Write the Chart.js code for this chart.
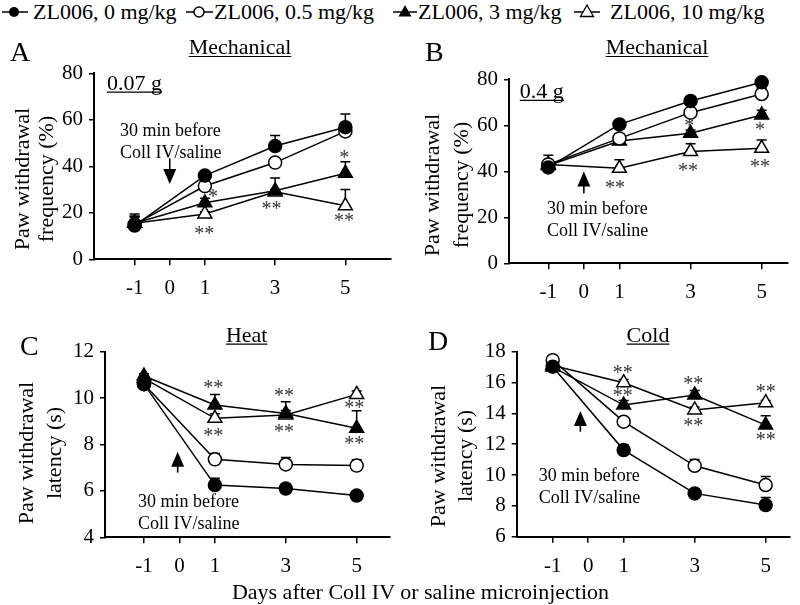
<!DOCTYPE html>
<html>
<head>
<meta charset="utf-8">
<script src="https://cdn.jsdelivr.net/npm/chart.js@4.4.1/dist/chart.umd.min.js"></script>
<style>
  body { margin: 0; background: #fff; width: 800px; height: 605px; position: relative; overflow: hidden; font-family: 'Liberation Serif', 'Times New Roman', serif; }
  canvas { position: absolute; }
  .leg { position: absolute; top: 1px; font-family: 'Liberation Serif', 'Times New Roman', serif; font-size: 22px; line-height: 22px; white-space: nowrap; color: #000; }
  .legsym { position: absolute; top: 0; }
  #xtitle { position: absolute; left: 0; width: 841px; top: 581px; text-align: center; font-family: 'Liberation Serif', 'Times New Roman', serif; font-size: 22px; line-height: 22px; }
</style>
</head>
<body>
<svg class="legsym" style="left:0" width="32" height="24"><line x1="2" y1="12" x2="28" y2="12" stroke="#000" stroke-width="1.5"/><circle cx="14" cy="12" r="5" fill="#000"/></svg>
<div class="leg" style="left:33px">ZL006, 0 mg/kg</div>
<svg class="legsym" style="left:185px" width="32" height="24"><line x1="1" y1="12" x2="28" y2="12" stroke="#000" stroke-width="1.5"/><circle cx="14" cy="12" r="5" fill="#fff" stroke="#000" stroke-width="1.5"/></svg>
<div class="leg" style="left:214px">ZL006, 0.5 mg/kg</div>
<svg class="legsym" style="left:392px" width="32" height="24"><line x1="1" y1="12" x2="25" y2="12" stroke="#000" stroke-width="1.5"/><polygon points="13,5 19.5,16.5 6.5,16.5" fill="#000"/></svg>
<div class="leg" style="left:418px">ZL006, 3 mg/kg</div>
<svg class="legsym" style="left:573px" width="32" height="24"><line x1="1" y1="12" x2="27" y2="12" stroke="#000" stroke-width="1.5"/><polygon points="14,5 20.5,16.5 7.5,16.5" fill="#fff" stroke="#000" stroke-width="1.3"/></svg>
<div class="leg" style="left:610px">ZL006, 10 mg/kg</div>

<canvas id="panelA" width="400" height="300" style="left:0;top:0"></canvas>
<canvas id="panelB" width="400" height="300" style="left:400px;top:0"></canvas>
<canvas id="panelC" width="400" height="290" style="left:0;top:300px"></canvas>
<canvas id="panelD" width="400" height="290" style="left:400px;top:300px"></canvas>
<div id="xtitle">Days after Coll IV or saline microinjection</div>

<script>
const FONT = "'Liberation Serif', 'Times New Roman', serif";

// data
const days = [-1, 1, 3, 5];
const xTicks = [-1, 0, 1, 3, 5];
const seriesNames = ['ZL006, 0 mg/kg', 'ZL006, 0.5 mg/kg', 'ZL006, 3 mg/kg', 'ZL006, 10 mg/kg'];

// A: mechanical 0.07 g (%)
const mechA_0 = [14.5, 36, 48.7, 56.8];
const mechA_05 = [15, 31.5, 41.6, 55];
const mechA_3 = [15.5, 24.3, 29.5, 37];
const mechA_10 = [15.5, 19.5, 29, 23];
const mechA_0_err = [5, 1.5, 4.5, 5.7];
const mechA_05_err = [3, 1, 1.5, 1.5];
const mechA_3_err = [3, 2, 5.5, 5];
const mechA_10_err = [3, 1, 1, 7];

// B: mechanical 0.4 g (%)
const mechB_0 = [41.7, 60.4, 70.6, 78.7];
const mechB_05 = [43, 54.3, 65.5, 73.6];
const mechB_3 = [42.5, 53.2, 56.5, 64.5];
const mechB_10 = [43, 41.3, 48.6, 50];
const mechB_0_err = [5.3, 1.5, 1, 1.5];
const mechB_05_err = [1, 2, 1, 2.5];
const mechB_3_err = [1, 1, 1.5, 2];
const mechB_10_err = [1, 3.7, 3.4, 3.6];

// C: heat latency (s)
const heat_0 = [10.6, 6.25, 6.1, 5.8];
const heat_05 = [10.6, 7.36, 7.14, 7.09];
const heat_3 = [10.95, 9.7, 9.34, 8.7];
const heat_10 = [10.85, 9.13, 9.27, 10.16];
const heat_0_err = [0.1, 0.3, 0.2, 0.1];
const heat_05_err = [0.1, 0.25, 0.3, 0.25];
const heat_3_err = [0.1, 0.45, 0.5, 0.75];
const heat_10_err = [0.1, 0.2, 0.2, 0.15];

// D: cold latency (s)
const cold_0 = [17.03, 11.62, 8.81, 8.05];
const cold_05 = [17.45, 13.46, 10.6, 9.35];
const cold_3 = [17.0, 14.54, 15.19, 13.24];
const cold_10 = [17.1, 15.99, 14.22, 14.69];
const cold_0_err = [0.1, 0.33, 0.15, 0.5];
const cold_05_err = [0.1, 0.2, 0.4, 0.55];
const cold_3_err = [0.1, 0.3, 0.3, 0.6];
const cold_10_err = [0.1, 0.2, 0.2, 0.15];

// significance marks: [day, value, text]
const starsA = [[1.23, 28.2, '*'], [0.98, 12.2, '**'], [2.9, 23.1, '**'], [4.97, 44.9, '*'], [4.96, 17.6, '**']];
const starsB = [[0.875, 34.1, '**'], [2.96, 60.9, '*'], [2.93, 41.3, '**'], [4.95, 59.1, '*'], [4.95, 43.2, '**']];
const starsC = [[0.955, 10.56, '**'], [0.955, 8.48, '**'], [2.95, 10.2, '**'], [2.95, 8.65, '**'], [4.93, 9.7, '**'], [4.93, 8.16, '**']];
const starsD = [[0.97, 16.81, '**'], [0.97, 15.3, '**'], [2.96, 16.12, '**'], [2.96, 13.39, '**'], [5.0, 15.56, '**'], [5.0, 12.49, '**']];

const markerStyles = [
  { pointStyle: 'circle', r: 6.5, fill: '#000' },
  { pointStyle: 'circle', r: 6.5, fill: '#fff' },
  { pointStyle: 'triangle', r: 8, fill: '#000' },
  { pointStyle: 'triangle', r: 8, fill: '#fff' }
];

const decorPlugin = {
  id: 'decor',
  beforeDatasetsDraw(chart) {
    const { ctx, scales: { x, y } } = chart;
    ctx.save();
    ctx.strokeStyle = '#000';
    ctx.lineWidth = 1.5;
    chart.data.datasets.forEach(ds => {
      ds.data.forEach((p, j) => {
        const px = x.getPixelForValue(p.x);
        const y0 = y.getPixelForValue(p.y);
        const y1 = y.getPixelForValue(p.y + ds.err[j]);
        ctx.beginPath();
        ctx.moveTo(px, y0); ctx.lineTo(px, y1);
        ctx.moveTo(px - 5, y1); ctx.lineTo(px + 5, y1);
        ctx.stroke();
      });
    });
    ctx.restore();
  },
  afterDraw(chart, args, o) {
    const { ctx, scales: { x, y } } = chart;
    ctx.save();
    ctx.fillStyle = '#000';
    ctx.strokeStyle = '#000';

    ctx.font = `28px ${FONT}`;
    ctx.textAlign = 'left';
    ctx.textBaseline = 'alphabetic';
    ctx.fillText(o.letter, o.letterPos[0], o.letterPos[1]);

    ctx.font = `22px ${FONT}`;
    ctx.textAlign = 'center';
    ctx.fillText(o.title, o.titlePos[0], o.titlePos[1]);
    let w = ctx.measureText(o.title).width;
    ctx.lineWidth = 1.2;
    ctx.beginPath();
    ctx.moveTo(o.titlePos[0] - w / 2, o.titlePos[1] + 2.5);
    ctx.lineTo(o.titlePos[0] + w / 2, o.titlePos[1] + 2.5);
    ctx.stroke();

    // y axis title, two lines
    ctx.textBaseline = 'middle';
    o.yTitle.forEach((t, i) => {
      ctx.save();
      ctx.translate(o.yTitleX[i], o.yTitleY);
      ctx.rotate(-Math.PI / 2);
      ctx.fillText(t, 0, 0);
      ctx.restore();
    });

    if (o.dose) {
      ctx.textAlign = 'left';
      ctx.textBaseline = 'alphabetic';
      const dx = x.getPixelForValue(o.dose[0]), dy = y.getPixelForValue(o.dose[1]);
      ctx.fillText(o.dose[2], dx, dy);
      w = ctx.measureText(o.dose[2]).width;
      ctx.beginPath();
      ctx.moveTo(dx, dy + 2); ctx.lineTo(dx + w, dy + 2);
      ctx.stroke();
    }

    // arrow
    const ax = x.getPixelForValue(o.arrow[0]);
    const a0 = y.getPixelForValue(o.arrow[1]);
    const a1 = y.getPixelForValue(o.arrow[2]);
    const dir = Math.sign(a1 - a0);
    ctx.lineWidth = 1.6;
    ctx.beginPath();
    ctx.moveTo(ax, a0); ctx.lineTo(ax, a1 - dir * 12);
    ctx.stroke();
    ctx.beginPath();
    ctx.moveTo(ax, a1);
    ctx.lineTo(ax - 6.5, a1 - dir * 15);
    ctx.lineTo(ax + 6.5, a1 - dir * 15);
    ctx.closePath();
    ctx.fill();

    // note
    ctx.font = `18px ${FONT}`;
    ctx.textAlign = 'left';
    ctx.textBaseline = 'middle';
    const nx = x.getPixelForValue(o.note[0]);
    ctx.fillText('30 min before', nx, y.getPixelForValue(o.note[1]));
    ctx.fillText('Coll IV/saline', nx, y.getPixelForValue(o.note[2]));

    // stars
    ctx.font = `20px ${FONT}`;
    ctx.fillStyle = '#333';
    ctx.textAlign = 'center';
    ctx.textBaseline = 'alphabetic';
    o.stars.forEach(s => {
      ctx.fillText(s[2], x.getPixelForValue(s[0]), y.getPixelForValue(s[1]) + 9);
    });
    ctx.restore();
  }
};

function makePanel(id, c) {
  const datasets = c.series.map((vals, i) => ({
    label: seriesNames[i],
    data: days.map((d, j) => ({ x: d, y: vals[j] })),
    err: c.errs[i],
    borderColor: '#000',
    borderWidth: 1.5,
    pointStyle: markerStyles[i].pointStyle,
    pointRadius: markerStyles[i].r,
    pointBackgroundColor: markerStyles[i].fill,
    pointBorderColor: '#000',
    pointBorderWidth: 1.5,
    tension: 0,
    fill: false,
    clip: false
  }));
  return new Chart(document.getElementById(id), {
    type: 'line',
    data: { datasets },
    plugins: [decorPlugin],
    options: {
      responsive: false,
      animation: false,
      events: [],
      layout: { padding: { left: 0, top: c.padTop, right: c.padRight, bottom: 0 } },
      plugins: { legend: { display: false }, tooltip: { enabled: false }, decor: c.decor },
      scales: {
        x: {
          type: 'linear', min: c.xMin, max: c.xMax,
          afterBuildTicks: s => { s.ticks = xTicks.map(v => ({ value: v })); },
          afterFit: s => { s.height = c.xH; },
          ticks: { font: { family: FONT, size: 21 }, color: '#000', padding: 11, maxRotation: 0, autoSkip: false },
          grid: { drawOnChartArea: false, tickLength: 6, color: '#000', lineWidth: 1.5 },
          border: { color: '#000', width: 2 }
        },
        y: {
          min: c.yMin, max: c.yMax,
          afterFit: s => { s.width = c.yW; },
          ticks: { stepSize: c.yStep, font: { family: FONT, size: 21 }, color: '#000', padding: 6 },
          grid: { drawOnChartArea: false, tickLength: 5, color: '#000', lineWidth: 1.5 },
          border: { color: '#000', width: 2 }
        }
      }
    }
  });
}

makePanel('panelA', {
  series: [mechA_0, mechA_05, mechA_3, mechA_10],
  errs: [mechA_0_err, mechA_05_err, mechA_3_err, mechA_10_err],
  xMin: -2.157, xMax: 6.285, yMin: 0, yMax: 80, yStep: 20,
  yW: 94, xH: 40.7, padTop: 73.3, padRight: 7,
  decor: {
    letter: 'A', letterPos: [10, 60.7], title: 'Mechanical', titlePos: [240, 54],
    yTitle: ['Paw withdrawal', 'frequency (%)'], yTitleX: [23, 47], yTitleY: 179,
    dose: [-1.79, 72.8, '0.07 g'], arrow: [0, 43.4, 32.4], note: [-1.42, 54.9, 45.7], stars: starsA
  }
});

makePanel('panelB', {
  series: [mechB_0, mechB_05, mechB_3, mechB_10],
  errs: [mechB_0_err, mechB_05_err, mechB_3_err, mechB_10_err],
  xMin: -2.105, xMax: 5.74, yMin: 0, yMax: 80, yStep: 20,
  yW: 109, xH: 36.7, padTop: 79.3, padRight: 12,
  decor: {
    letter: 'B', letterPos: [25, 60.7], title: 'Mechanical', titlePos: [257, 54],
    yTitle: ['Paw withdrawal', 'frequency (%)'], yTitleX: [33, 62], yTitleY: 185,
    dose: [-1.8, 71.7, '0.4 g'], arrow: [0, 30.4, 39.9], note: [-1.04, 23.6, 14.0], stars: starsB
  }
});

makePanel('panelC', {
  series: [heat_0, heat_05, heat_3, heat_10],
  errs: [heat_0_err, heat_05_err, heat_3_err, heat_10_err],
  xMin: -2.10, xMax: 5.94, yMin: 4, yMax: 12, yStep: 2,
  yW: 105, xH: 52.7, padTop: 51.7, padRight: 10,
  decor: {
    letter: 'C', letterPos: [20, 55], title: 'Heat', titlePos: [246.7, 41.7],
    yTitle: ['Paw withdrawal', 'latency (s)'], yTitleX: [27, 55], yTitleY: 153,
    dose: null, arrow: [-0.05, 6.79, 7.69], note: [-1.17, 5.49, 4.57], stars: starsC
  }
});

makePanel('panelD', {
  series: [cold_0, cold_05, cold_3, cold_10],
  errs: [cold_0_err, cold_05_err, cold_3_err, cold_10_err],
  xMin: -2.014, xMax: 5.685, yMin: 6, yMax: 18, yStep: 2,
  yW: 116.7, xH: 53.3, padTop: 51.7, padRight: 10,
  decor: {
    letter: 'D', letterPos: [28, 50], title: 'Cold', titlePos: [248, 41.7],
    yTitle: ['Paw withdrawal', 'latency (s)'], yTitleX: [39, 66], yTitleY: 156,
    dose: null, arrow: [-0.22, 12.81, 14.15], note: [-1.39, 9.94, 8.51], stars: starsD
  }
});
</script>
</body>
</html>
